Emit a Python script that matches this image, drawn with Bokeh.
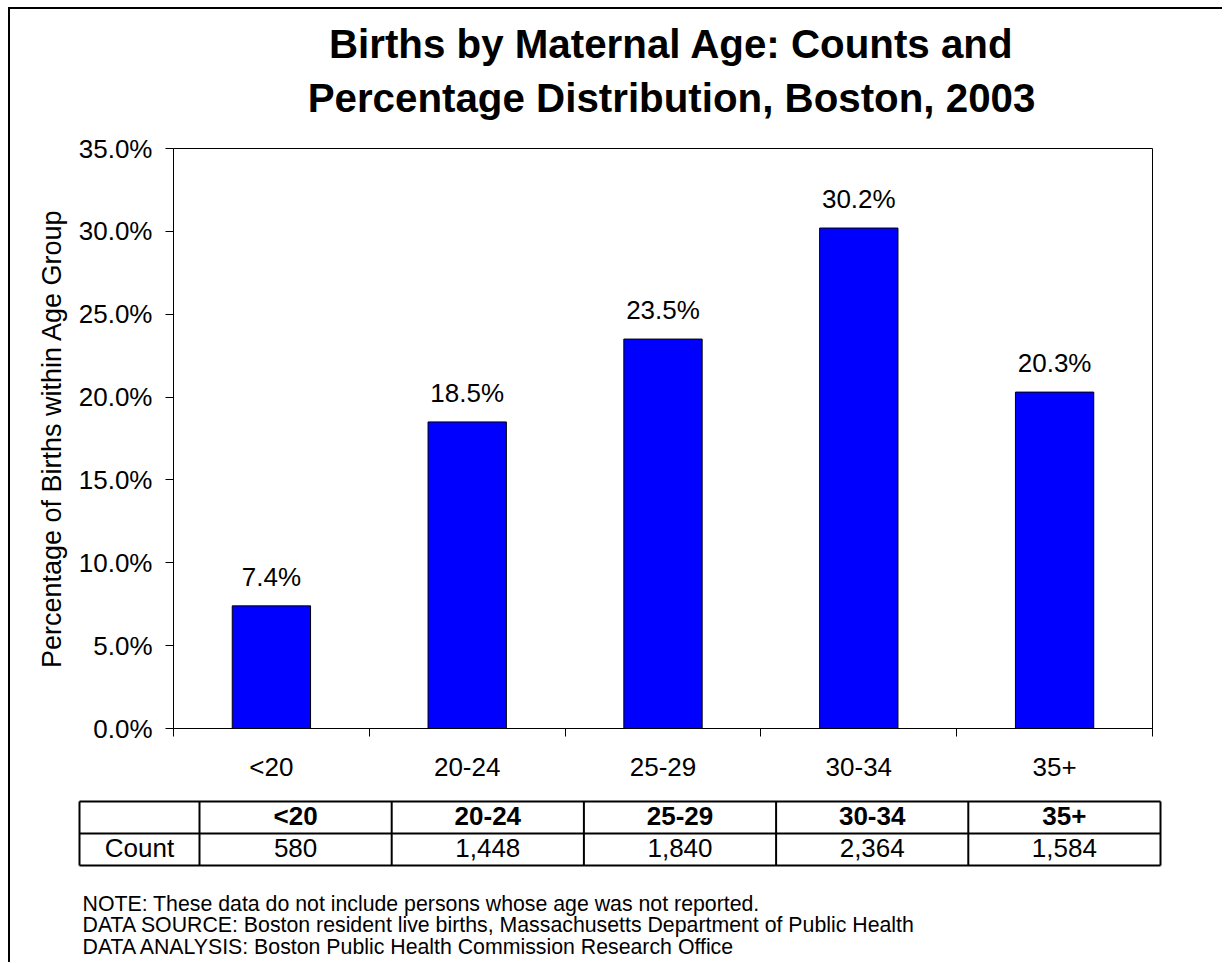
from bokeh.plotting import figure
from bokeh.models import (Range1d, FixedTicker, NumeralTickFormatter,
                          CustomJSTickFormatter, Spacer)
from bokeh.layouts import column, row
from bokeh.embed import file_html
from bokeh.resources import INLINE
from bokeh.core.properties import value

# ---------------- data ----------------
age_groups = ["<20", "20-24", "25-29", "30-34", "35+"]
percent = [7.4, 18.5, 23.5, 30.2, 20.3]
counts = [580, 1448, 1840, 2364, 1584]
y_ticks = [0, 5, 10, 15, 20, 25, 30, 35]
title_lines = ["Births by Maternal Age: Counts and",
               "Percentage Distribution, Boston, 2003"]
y_label = "Percentage of Births within Age Group"
row_label = "Count"
notes = [
    "NOTE: These data do not include persons whose age was not reported.",
    "DATA SOURCE: Boston resident live births, Massachusetts Department of Public Health",
    "DATA ANALYSIS: Boston Public Health Commission Research Office",
]

FONT = "Liberation Sans"
n = len(age_groups)
xs = [i + 0.5 for i in range(n)]
shares = [v / 100 for v in percent]
W = 1212


def blank(fig):
    fig.frame_align = False
    fig.axis.visible = False
    fig.xgrid.visible = False
    fig.ygrid.visible = False
    fig.outline_line_color = None
    fig.background_fill_color = "white"
    fig.border_fill_color = "white"


# ---------------- title strip ----------------
TTH = 116
tt = figure(width=W, height=TTH, title=None, x_range=Range1d(0, W),
            y_range=Range1d(TTH, 0), output_backend="svg",
            toolbar_location=None, min_border=0)
blank(tt)
TITLE_CX = 661          # px centre of title lines
TITLE_Y = [34.6, 88.6]  # px (from top) of the cap-centre of each line
tt.text(x=[TITLE_CX] * len(title_lines), y=TITLE_Y, text=title_lines,
        text_align="center", text_baseline="middle", text_font=value(FONT),
        text_font_size="40.3px", text_font_style="bold", text_color="black")

# ---------------- main chart ----------------
PH = 665
p = figure(width=W, height=PH, title=None,
           x_range=Range1d(0, n), y_range=Range1d(y_ticks[0] / 100, y_ticks[-1] / 100),
           output_backend="svg", toolbar_location=None,
           min_border_left=163, min_border_right=70,
           min_border_top=23, min_border_bottom=62)
p.frame_align = False
p.background_fill_color = "white"
p.border_fill_color = "white"
p.outline_line_color = "black"
p.outline_line_width = 1
p.xgrid.visible = False
p.ygrid.visible = False

p.vbar(x=xs, top=shares, width=0.4, fill_color="#0000FF",
       line_color="black", line_width=1)
p.text(x=xs, y=shares, text=[f"{v:.1f}%" for v in percent],
       text_align="center", text_baseline="middle", y_offset=-29,
       text_font=value(FONT), text_font_size="26px", text_color="black")

xa = p.xaxis[0]
xa.ticker = FixedTicker(ticks=xs, minor_ticks=list(range(n + 1)))
xa.formatter = CustomJSTickFormatter(args=dict(labels=age_groups),
                                     code="return labels[Math.floor(tick)];")
xa.major_tick_out = 0
xa.major_tick_in = 0
xa.minor_tick_out = 8
xa.minor_tick_in = 0
xa.minor_tick_line_color = "black"
xa.major_label_standoff = 15

ya = p.yaxis[0]
ya.ticker = FixedTicker(ticks=[t / 100 for t in y_ticks])
ya.formatter = NumeralTickFormatter(format="0.0%")
ya.major_tick_out = 8
ya.major_tick_in = 0
ya.minor_tick_line_color = None
ya.major_label_standoff = 13
ya.axis_label = y_label
ya.axis_label_standoff = 9
ya.axis_label_text_font = FONT
ya.axis_label_text_font_size = "27px"
ya.axis_label_text_font_style = "normal"
ya.axis_label_text_color = "black"

for ax in (xa, ya):
    ax.axis_line_color = "black"
    ax.axis_line_width = 1
    ax.major_tick_line_color = "black"
    ax.major_label_text_font = FONT
    ax.major_label_text_font_size = "26px"
    ax.major_label_text_color = "black"

# ---------------- table + notes ----------------
TH = 172                 # canvas height
COL_W = 192.2            # px per category column
HEAD_W = 120             # px of first column
FIRST_DIV = 189          # px of first divider from canvas left
ROW_H = 32               # px per row
TABLE_BOTTOM = 75        # px of table bottom from canvas top
x0 = -FIRST_DIV / COL_W
x1 = (W - FIRST_DIV) / COL_W
t = figure(width=W, height=TH, title=None,
           x_range=Range1d(x0, x1),
           y_range=Range1d(-(TH - TABLE_BOTTOM) / ROW_H, TABLE_BOTTOM / ROW_H),
           output_backend="svg", toolbar_location=None, min_border=0)
blank(t)

left = -HEAD_W / COL_W
t.segment(x0=[left] * 3, y0=[0, 1, 2], x1=[n] * 3, y1=[0, 1, 2],
          line_color="black", line_width=2)
vx = [left] + list(range(n + 1))
t.segment(x0=vx, y0=[0] * len(vx), x1=vx, y1=[2] * len(vx),
          line_color="black", line_width=2)

t.text(x=xs, y=[1.5] * n, text=age_groups, text_align="center",
       text_baseline="middle", y_offset=-2, text_font=value(FONT),
       text_font_size="26px", text_font_style="bold", text_color="black")
t.text(x=xs, y=[0.5] * n, text=[f"{c:,}" for c in counts], text_align="center",
       text_baseline="middle", y_offset=-2, text_font=value(FONT),
       text_font_size="26px", text_color="black")
t.text(x=[left / 2], y=[0.5], text=[row_label], text_align="center",
       text_baseline="middle", y_offset=-2, text_font=value(FONT),
       text_font_size="26px", text_color="black")

NOTE_X = -117 / COL_W
NOTE_FIRST = 38
NOTE_STEP = 21.7
t.text(x=[NOTE_X] * len(notes),
       y=[-(NOTE_FIRST + i * NOTE_STEP) / ROW_H for i in range(len(notes))],
       text=notes, text_align="left", text_baseline="middle",
       text_font=value(FONT), text_font_size="21.3px", text_color="black")

# ---------------- outer frame (left and top rules) ----------------
BLACK = {"background-color": "black"}
inner = column(Spacer(width=W, height=2, styles=BLACK), tt, p, t)
H_ALL = 2 + TTH + PH + TH
layout = column(
    Spacer(width=W + 10, height=7),
    row(Spacer(width=8, height=H_ALL),
        Spacer(width=2, height=H_ALL, styles=BLACK),
        inner),
)

open("out.html", "w").write(file_html(layout, INLINE))
